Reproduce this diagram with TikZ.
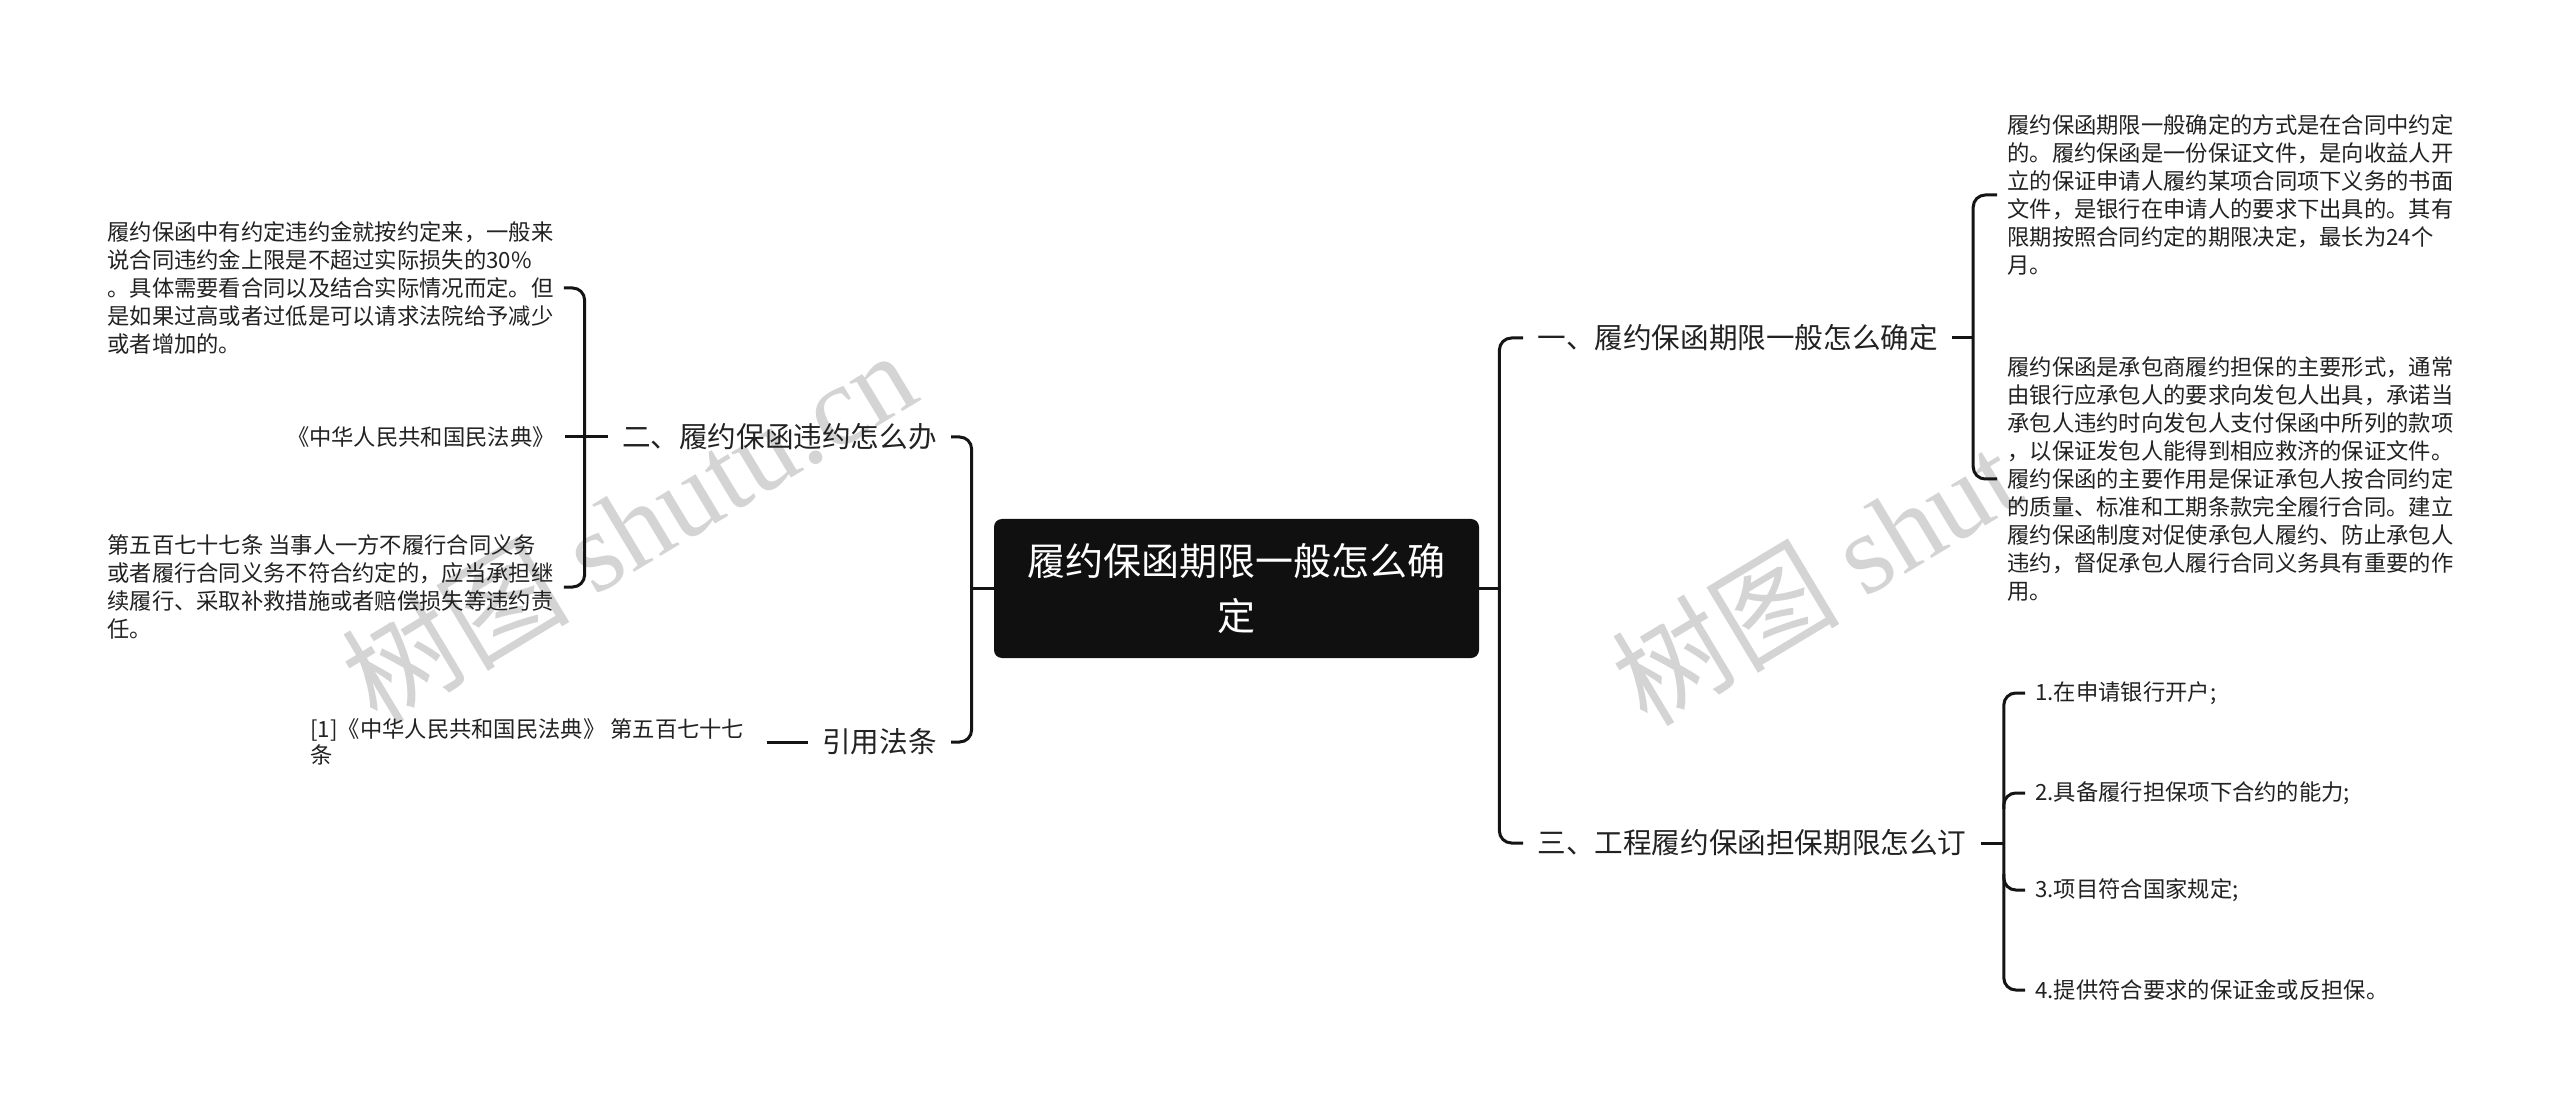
\documentclass[tikz,border=0pt]{standalone}
\usepackage{fontspec}
\setmainfont{Noto Sans CJK SC}
\newfontfamily\wmlatin{Liberation Serif}
\usepackage{tikz}
\usetikzlibrary{positioning}
\definecolor{rootbg}{RGB}{16,16,16}
\definecolor{wmgray}{RGB}{212,212,212}
\definecolor{inkline}{RGB}{20,20,20}
\definecolor{inktext}{RGB}{34,34,34}

\begin{document}
\begin{tikzpicture}[x=0.5pt,y=-0.5pt,
  link/.style={draw=inkline,line width=1.5pt,rounded corners=6pt},
  topic/.style={fill=rootbg,text=white,rounded corners=4pt,align=center,
    minimum width=242.5pt,minimum height=69.5pt,font=\fontsize{19}{27.5}\selectfont},
  branch/.style={inner xsep=7pt,inner ysep=2pt,text=inktext,font=\fontsize{14.3}{17}\selectfont},
  leaf/.style={inner xsep=5pt,inner ysep=2pt,align=left,text=inktext,font=\fontsize{11.15}{14}\selectfont},
  wmark/.style={text=wmgray,rotate=31,anchor=west,inner sep=0pt,font=\fontsize{57}{59}\selectfont}]
  \fill[white] (0,0) rectangle (2560,1112);
  \useasboundingbox (0,0) rectangle (2560,1112);
  % watermarks
  \node[wmark] (wmleft) at (355,690) {树图 {\wmlatin shutu.cn}};
  \node[wmark] (wmright) at (1625,692) {树图 {\wmlatin shut}};
  % centre topic
  \node[topic] (root) at (1236.5,588.5) {履约保函期限一般怎么确\\定};
  % left side
  \node[branch,anchor=east] (b2) at (951,437) {二、履约保函违约怎么办};
  \node[branch,anchor=east] (ref) at (951,742) {引用法条};
  \node[leaf,anchor=west] (leafA) at (97,288) {履约保函中有约定违约金就按约定来，一般来\\
    说合同违约金上限是不超过实际损失的30\%\\
    。具体需要看合同以及结合实际情况而定。但\\
    是如果过高或者过低是可以请求法院给予减少\\
    或者增加的。};
  \node[leaf,anchor=east] (leafB) at (565,437) {《中华人民共和国民法典》};
  \node[leaf,anchor=west] (leafC) at (97,587) {第五百七十七条 当事人一方不履行合同义务\\
    或者履行合同义务不符合约定的，应当承担继\\
    续履行、采取补救措施或者赔偿损失等违约责\\
    任。};
  \node[leaf,anchor=west,font=\fontsize{11.15}{13}\selectfont] (cite) at (300,742)
    {[1]《中华人民共和国民法典》 第五百七十七\\条};
  % right side
  \node[branch,anchor=west] (b1) at (1523,338) {一、履约保函期限一般怎么确定};
  \node[branch,anchor=west] (b3) at (1523,843) {三、工程履约保函担保期限怎么订};
  \node[leaf,anchor=west] (r1) at (1997,195) {履约保函期限一般确定的方式是在合同中约定\\
    的。履约保函是一份保证文件，是向收益人开\\
    立的保证申请人履约某项合同项下义务的书面\\
    文件，是银行在申请人的要求下出具的。其有\\
    限期按照合同约定的期限决定，最长为24个\\
    月。};
  \node[leaf,anchor=west] (r2) at (1997,479) {履约保函是承包商履约担保的主要形式，通常\\
    由银行应承包人的要求向发包人出具，承诺当\\
    承包人违约时向发包人支付保函中所列的款项\\
    ，以保证发包人能得到相应救济的保证文件。\\
    履约保函的主要作用是保证承包人按合同约定\\
    的质量、标准和工期条款完全履行合同。建立\\
    履约保函制度对促使承包人履约、防止承包人\\
    违约，督促承包人履行合同义务具有重要的作\\
    用。};
  \node[leaf,anchor=west] (i1) at (2025,693) {1.在申请银行开户;};
  \node[leaf,anchor=west] (i2) at (2025,793) {2.具备履行担保项下合约的能力;};
  \node[leaf,anchor=west] (i3) at (2025,890) {3.项目符合国家规定;};
  \node[leaf,anchor=west] (i4) at (2025,990) {4.提供符合要求的保证金或反担保。};
  % bus points
  \coordinate[left=11pt of root.west] (busL);
  \coordinate[left=11.5pt of b2.west] (busLA);
  \coordinate[right=10pt of root.east] (busR);
  \coordinate[right=10.5pt of b1.east] (busRA);
  \coordinate[right=11.5pt of b3.east] (busRB);
  \path (busRB |- i2.west) coordinate (j2) (busRB |- i3.west) coordinate (j3);
  % connectors
  \draw[link] (busL) -- (root.west);
  \draw[link] (b2.east) -| (busL) |- (ref.east);
  \draw[link] (leafA.east) -| (busLA) |- (leafC.east);
  \draw[link] (leafB.east) -- (busLA) -- (b2.west);
  \draw[link] ([xshift=6pt]cite.east) -- (ref.west);
  \draw[link] (root.east) -- (busR);
  \draw[link] (b1.west) -| (busR) |- (b3.west);
  \draw[link] (r1.west) -| (busRA) |- (r2.west);
  \draw[link] (b1.east) -- (busRA);
  \draw[link] (i1.west) -| (busRB) |- (i4.west);
  \draw[link] (b3.east) -- (busRB);
  \draw[link] (i2.west) -| ([yshift=-8pt]j2);
  \draw[link] (i3.west) -| ([yshift=8pt]j3);
\end{tikzpicture}
\end{document}
